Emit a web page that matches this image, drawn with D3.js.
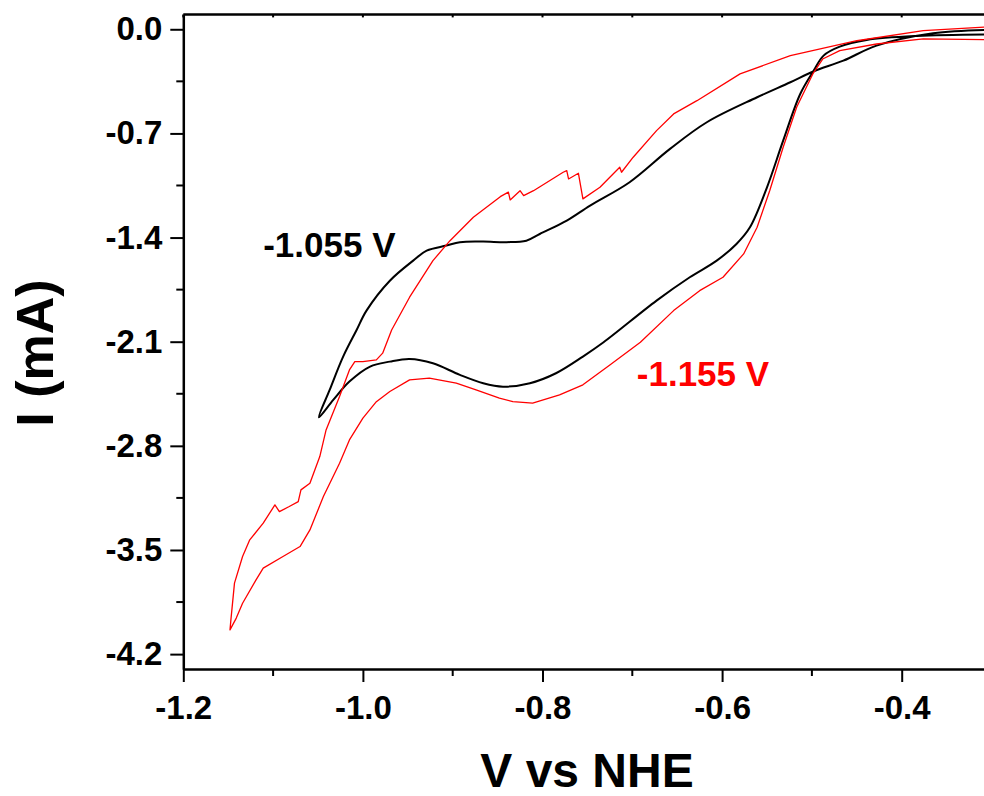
<!DOCTYPE html>
<html>
<head>
<meta charset="utf-8">
<script src="https://cdn.jsdelivr.net/npm/d3@7"></script>
<style>
  body { margin: 0; background: #fff; }
  svg { display: block; font-family: Arial, 'Liberation Sans', sans-serif; font-weight: bold; }
</style>
</head>
<body>
<svg id="cv" width="984" height="796"></svg>
<script>
// potential (V vs NHE) and current (mA)
// black scan: cathodic branch then anodic return, vertex at -1.055 V
const blackV = [-0.300, -0.383, -0.439, -0.469, -0.487, -0.498, -0.513, -0.532, -0.550, -0.569,
  -0.584, -0.606, -0.636, -0.673, -0.732, -0.755, -0.785, -0.814, -0.844, -0.866,
  -0.892, -0.922, -0.948, -0.970, -0.992, -1.015, -1.033, -1.049,
  -1.037, -1.022, -1.007, -0.996, -0.970, -0.944, -0.929, -0.907, -0.892, -0.866,
  -0.840, -0.818, -0.803, -0.773, -0.747, -0.703, -0.658, -0.617, -0.561, -0.524,
  -0.498, -0.465, -0.428, -0.365, -0.300];
const blackI = [-0.035, -0.045, -0.072, -0.117, -0.177, -0.278, -0.435, -0.749, -1.062, -1.331,
  -1.443, -1.555, -1.667, -1.824, -2.104, -2.200, -2.312, -2.379, -2.402, -2.379,
  -2.323, -2.245, -2.216, -2.234, -2.267, -2.368, -2.491, -2.608,
  -2.424, -2.200, -2.021, -1.891, -1.690, -1.555, -1.488, -1.454, -1.431, -1.427,
  -1.431, -1.421, -1.376, -1.286, -1.185, -1.028, -0.804, -0.625, -0.457, -0.356,
  -0.282, -0.211, -0.110, -0.027, -0.003];

// red scan: vertex at -1.155 V
const redV = [-0.300, -0.376, -0.428, -0.469, -0.488, -0.499, -0.517, -0.532, -0.547, -0.561,
  -0.576, -0.599, -0.625, -0.654, -0.691, -0.725, -0.755, -0.781, -0.811, -0.833,
  -0.848, -0.874, -0.896, -0.926, -0.948, -0.970, -0.985, -1.000, -1.015, -1.026,
  -1.044, -1.059, -1.070, -1.089, -1.111, -1.119, -1.134, -1.141, -1.148,
  -1.147, -1.143, -1.134, -1.126, -1.111, -1.098, -1.093, -1.082, -1.072, -1.069,
  -1.059, -1.048, -1.041, -1.026, -1.015, -1.009, -1.000, -0.985, -0.978, -0.968,
  -0.948, -0.922, -0.903, -0.877, -0.847, -0.838, -0.836, -0.825, -0.821, -0.810,
  -0.777, -0.773, -0.771, -0.760, -0.755, -0.736, -0.725, -0.714, -0.712, -0.699,
  -0.673, -0.654, -0.628, -0.580, -0.524, -0.450, -0.376, -0.300];
const redI = [-0.070, -0.065, -0.099, -0.144, -0.200, -0.300, -0.524, -0.793, -1.085, -1.331,
  -1.510, -1.667, -1.757, -1.891, -2.104, -2.256, -2.390, -2.458, -2.513, -2.503,
  -2.480, -2.424, -2.379, -2.345, -2.357, -2.435, -2.503, -2.614, -2.760, -2.917,
  -3.141, -3.365, -3.477, -3.544, -3.622, -3.701, -3.858, -3.958, -4.037,
  -3.970, -3.723, -3.544, -3.432, -3.320, -3.197, -3.242, -3.208, -3.175, -3.096,
  -3.051, -2.872, -2.693, -2.469, -2.290, -2.234, -2.234, -2.222, -2.177, -2.021,
  -1.801, -1.555, -1.421, -1.263, -1.125, -1.095, -1.147, -1.085, -1.118, -1.085,
  -0.961, -0.950, -1.006, -0.968, -1.140, -1.062, -0.995, -0.927, -0.961, -0.860,
  -0.681, -0.569, -0.480, -0.300, -0.177, -0.077, -0.009, 0.018];

const xMajor = [-1.2, -1.0, -0.8, -0.6, -0.4];
const xMinor = [-1.1, -0.9, -0.7, -0.5];
const yMajor = [0, -0.7, -1.4, -2.1, -2.8, -3.5, -4.2];
const yMinor = [-0.35, -1.05, -1.75, -2.45, -3.15, -3.85];

const notes = [
  { text: '-1.055 V', color: '#000000', v: -1.111, i: -1.532 },
  { text: '-1.155 V', color: '#ff0000', v: -0.695, i: -2.400 }
];

const svg = d3.select('#cv');

// plain hyphen for negatives, like the original figure
const fmt = d => d3.format('.1f')(d).replace('\u2212', '-');

const render = () => {
  const x = d3.scaleLinear().domain([-1.2, -0.3]).range([183.3, 991.5]);
  const y = d3.scaleLinear().domain([-4.3, 0.1]).range([669, 14.4]);

  const g = svg.append('g');

  // frame: top and right spines
  g.append('path')
    .attr('d', `M${x(-1.2)},${y(0.1)}H${x(-0.3)}V${y(-4.3)}`)
    .attr('fill', 'none').attr('stroke', '#000').attr('stroke-width', 2.5);
  g.selectAll('.top-tick').data(xMajor.concat(xMinor))
    .enter().append('line')
    .attr('x1', d => x(d)).attr('x2', d => x(d))
    .attr('y1', y(0.1)).attr('y2', y(0.1) + 3)
    .attr('stroke', '#000').attr('stroke-width', 2);

  // bottom axis
  const xAxis = g.append('g')
    .attr('transform', `translate(0, ${y(-4.3)})`)
    .call(d3.axisBottom(x).tickValues(xMajor).tickFormat(fmt)
      .tickSize(13).tickSizeOuter(0).tickPadding(14));
  xAxis.append('g').selectAll('line').data(xMinor)
    .enter().append('line')
    .attr('x1', d => x(d)).attr('x2', d => x(d))
    .attr('y1', 0).attr('y2', 7);

  // left axis
  const yAxis = g.append('g')
    .attr('transform', `translate(${x(-1.2)}, 0)`)
    .call(d3.axisLeft(y).tickValues(yMajor).tickFormat(fmt)
      .tickSize(13).tickSizeOuter(0).tickPadding(8));
  yAxis.append('g').selectAll('line').data(yMinor)
    .enter().append('line')
    .attr('x1', 0).attr('x2', -7)
    .attr('y1', d => y(d)).attr('y2', d => y(d));

  g.selectAll('.domain').attr('stroke-width', 2.5);
  g.selectAll('.tick line').attr('stroke-width', 2);
  xAxis.selectAll('g > line').attr('stroke', '#000').attr('stroke-width', 2);
  yAxis.selectAll('g > line').attr('stroke', '#000').attr('stroke-width', 2);
  g.selectAll('.tick text')
    .attr('font-size', '33px').attr('font-weight', 'bold')
    .attr('font-family', "Arial, 'Liberation Sans', sans-serif").attr('fill', '#000');

  // the two voltammograms
  const line = d3.line()
    .x(d => x(d[0]))
    .y(d => y(d[1]));

  g.append('path')
    .datum(blackV.map((v, k) => [v, blackI[k]]))
    .attr('d', line.curve(d3.curveCatmullRom.alpha(0.5)))
    .attr('fill', 'none').attr('stroke', '#000').attr('stroke-width', 2)
    .attr('stroke-linejoin', 'round');

  g.append('path')
    .datum(redV.map((v, k) => [v, redI[k]]))
    .attr('d', line.curve(d3.curveLinear))
    .attr('fill', 'none').attr('stroke', '#ff0000').attr('stroke-width', 1.3)
    .attr('stroke-linejoin', 'round');

  // annotations
  g.selectAll('.note').data(notes)
    .enter().append('text')
    .attr('x', d => x(d.v)).attr('y', d => y(d.i))
    .attr('font-size', '35px')
    .attr('fill', d => d.color)
    .text(d => d.text);

  // axis titles
  svg.append('text')
    .attr('x', 587).attr('y', 787)
    .attr('text-anchor', 'middle')
    .attr('font-size', '48px')
    .text('V vs NHE');

  svg.append('text')
    .attr('transform', 'translate(53, 353) rotate(-90)')
    .attr('text-anchor', 'middle')
    .attr('font-size', '52px')
    .text('I (mA)');
};

render();
</script>
</body>
</html>
